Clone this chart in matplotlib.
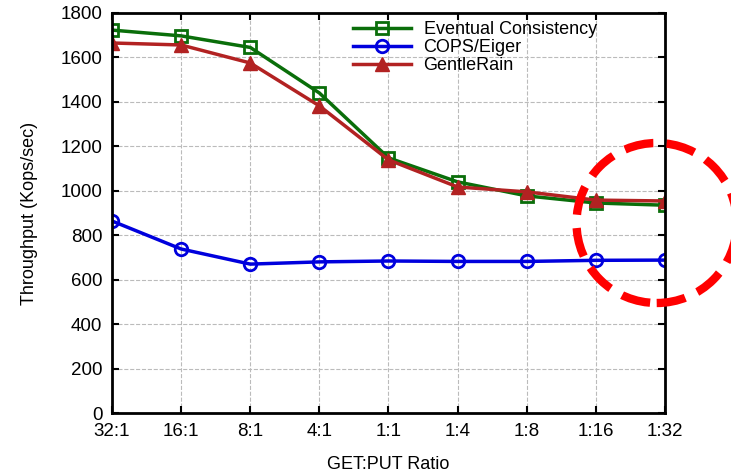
import numpy as np
import matplotlib.pyplot as plt
from matplotlib.patches import Ellipse

plt.rcParams['font.family'] = ['Liberation Sans', 'DejaVu Sans']

ratios = ['32:1', '16:1', '8:1', '4:1', '1:1', '1:4', '1:8', '1:16', '1:32']
eventual = [1723, 1697, 1645, 1440, 1148, 1040, 977, 945, 935]
cops = [864, 738, 670, 680, 684, 682, 682, 687, 688]
gentle = [1665, 1656, 1575, 1382, 1139, 1017, 995, 958, 954]

x = np.arange(len(ratios))

fig = plt.figure(figsize=(7.31, 4.72), dpi=100)
ax = fig.add_axes([0.1532, 0.125, 0.7565, 0.8475])

ax.plot(x, eventual, color='#0a6e0a', lw=2.5, marker='s', ms=9, mfc='none',
        mew=2, label='Eventual Consistency')
ax.plot(x, cops, color='#0000dd', lw=2.5, marker='o', ms=9, mfc='none',
        mew=2, label='COPS/Eiger')
ax.plot(x, gentle, color='#b22222', lw=2.5, marker='^', ms=10,
        label='GentleRain')

ax.set_xlim(0, len(ratios) - 1)
ax.set_ylim(0, 1800)
ax.set_xticks(x)
ax.set_xticklabels(ratios)
ax.set_yticks(np.arange(0, 1801, 200))
ax.tick_params(direction='in', length=5, width=1.5, labelsize=13.5,
               top=True, right=True, pad=7)
ax.grid(True, ls='--', color='#bbbbbb', lw=0.8)
for s in ax.spines.values():
    s.set_linewidth(2)

ax.set_xlabel('GET:PUT Ratio', fontsize=13, labelpad=12)
ax.set_ylabel('Throughput (Kops/sec)', fontsize=13, labelpad=16)

ax.legend(loc='upper left', bbox_to_anchor=(0.41, 1.015), frameon=False,
          fontsize=13, handlelength=3.2, labelspacing=0.05, borderpad=0.3,
          handletextpad=0.7)

# highlight circle around the last two points
circ = Ellipse((7.88, 855), 2.32, 720, fill=False, ec='#ff0000', lw=6,
               ls=(0, (3.5, 1.6)), clip_on=False, zorder=5)
ax.add_patch(circ)

fig.savefig('out.png', dpi=100)
